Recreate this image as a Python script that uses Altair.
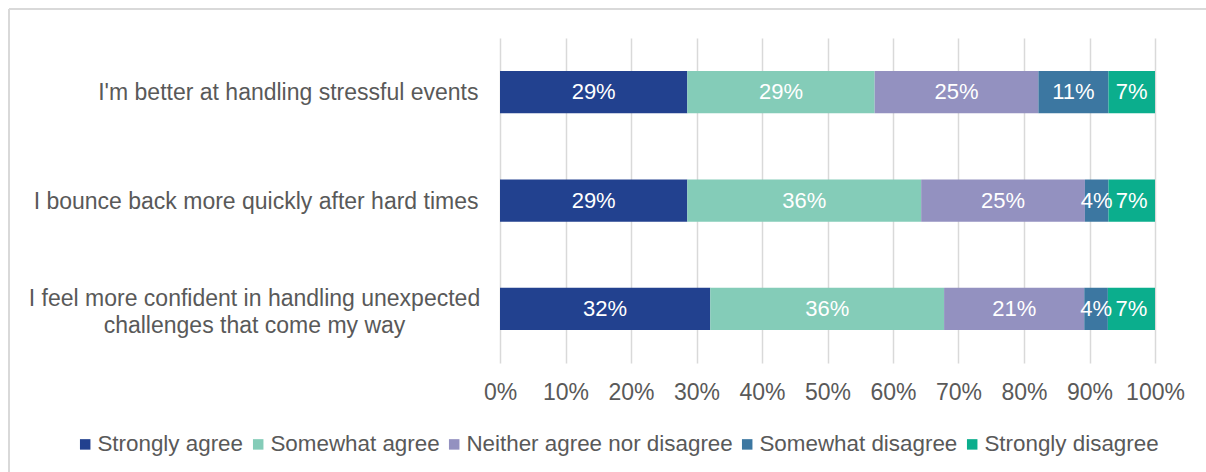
import altair as alt
import pandas as pd

questions = [
    "I'm better at handling stressful events",
    "I bounce back  more quickly after hard times",
    "I feel more confident in handling unexpected challenges that come my way",
]
responses = ["Strongly agree", "Somewhat agree", "Neither agree nor disagree",
             "Somewhat disagree", "Strongly disagree"]
colors = ["#22418F", "#84CCB8", "#9391C0", "#3C77A1", "#0BAE8D"]

strongly_agree = [28.6, 28.6, 32.1]
somewhat_agree = [28.6, 35.7, 35.7]
neither = [25.0, 25.0, 21.4]
somewhat_disagree = [10.7, 3.6, 3.6]
strongly_disagree = [7.1, 7.1, 7.2]

tick_values = [0, 10, 20, 30, 40, 50, 60, 70, 80, 90, 100]

series = [strongly_agree, somewhat_agree, neither, somewhat_disagree, strongly_disagree]
rows = []
for ri, (resp, vals) in enumerate(zip(responses, series)):
    for q, v in zip(questions, vals):
        rows.append({"question": q, "response": resp, "order": ri, "pct": v})
df = pd.DataFrame(rows)

FONT = "Liberation Sans"
GREY = "#595959"
MULTI = "indexof(datum.value, 'unexpected') >= 0"

base = alt.Chart(df).transform_stack(
    stack="pct", groupby=["question"], sort=[alt.SortField("order")], as_=["x0", "x1"]
).transform_calculate(mid="(datum.x0 + datum.x1) / 2")

yenc = alt.Y(
    "question:N", sort=questions, title=None,
    scale=alt.Scale(paddingInner=0.61, paddingOuter=0.305),
    axis=alt.Axis(
        ticks=False, domain=False, grid=False,
        labelFont=FONT, labelFontSize=23, labelColor=GREY, labelLimit=600,
        labelLineHeight=27,
        labelAlign={"condition": {"test": MULTI, "value": "center"}, "value": "right"},
        labelPadding={"condition": {"test": MULTI, "value": 246}, "value": 22},
        labelOffset={"condition": {"test": MULTI, "value": -10}, "value": 1},
        labelExpr="indexof(datum.label, 'unexpected ') >= 0 ? split(replace(datum.label, 'unexpected ', 'unexpected|'), '|') : datum.label",
    ),
)

bars = base.mark_bar().encode(
    y=yenc,
    x=alt.X("x0:Q", title=None,
            scale=alt.Scale(domain=[0, 100], nice=False),
            axis=alt.Axis(values=tick_values, labelExpr="datum.value + '%'",
                          domain=False, ticks=False, grid=True,
                          gridColor="#D9D9D9", gridWidth=1.5,
                          labelFlush=False, labelOverlap=False,
                          labelFont=FONT, labelFontSize=23, labelColor=GREY,
                          labelPadding=18)),
    x2="x1:Q",
    color=alt.Color("response:N", sort=responses,
                    scale=alt.Scale(domain=responses, range=colors),
                    legend=alt.Legend(
                        title=None, orient="none", direction="horizontal",
                        legendX=-426, legendY=395, padding=0,
                        symbolType="square", symbolSize=110, symbolStrokeWidth=0,
                        labelFont=FONT, labelFontSize=22.4, labelColor=GREY,
                        labelOffset=1, columnPadding=3, labelLimit=400,
                    )),
)

labels = base.transform_calculate(
    lbl="format(datum.pct, '.0f') + '%'"
).mark_text(color="white", font=FONT, fontSize=22, baseline="middle").encode(
    y=alt.Y("question:N", sort=questions),
    x=alt.X("mid:Q"),
    text="lbl:N",
)

frame_top = alt.Chart(df).mark_rule(color="#D9D9D9", strokeWidth=2).encode(
    x=alt.value(-491), x2=alt.value(720), y=alt.value(-29)
)
frame_left = alt.Chart(df).mark_rule(color="#D9D9D9", strokeWidth=2).encode(
    x=alt.value(-491), y=alt.value(-29), y2=alt.value(450)
)

chart = alt.layer(frame_top, frame_left, bars, labels).properties(
    width=655, height=325,
    padding={"left": 500, "top": 38, "right": 51, "bottom": 109},
    autosize="none",
    background="white",
).configure_view(stroke=None)

chart.save("out.html", embed_options={"renderer": "svg", "actions": False})
